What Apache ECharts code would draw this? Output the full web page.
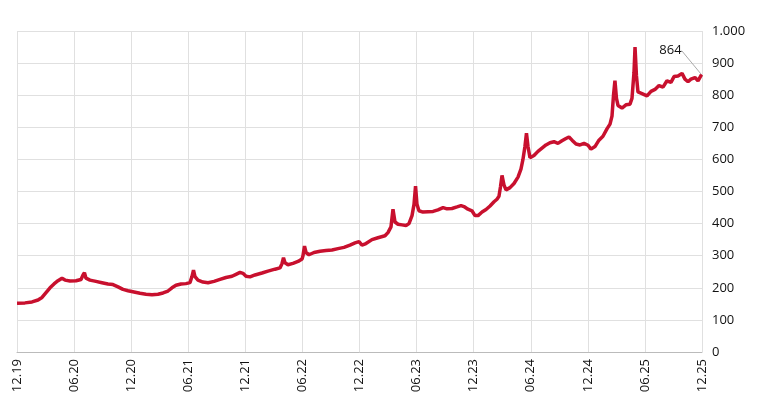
<!DOCTYPE html>
<html><head><meta charset="utf-8">
<script src="https://cdn.jsdelivr.net/npm/echarts@6/dist/echarts.min.js"></script>
<style>html,body{margin:0;padding:0;background:#fff}#c{width:765px;height:419px}</style>
</head><body><div id="c"></div>
<script>
// months since Dec 2019
const months = [0,0.84,1.58,2.21,2.63,3.05,3.47,3.89,4.31,4.73,5.05,5.57,6.20,6.73,6.94,7.09,7.25,7.67,8.30,8.93,9.56,10.09,10.62,11.14,11.67,12.30,12.93,13.56,14.19,14.82,15.35,15.87,16.29,16.71,17.24,17.76,18.18,18.39,18.55,18.71,19.02,19.55,20.08,20.71,21.34,21.97,22.60,23.02,23.44,23.75,24.07,24.49,25.02,25.75,26.38,27.12,27.64,27.85,28.01,28.17,28.48,29.01,29.54,29.96,30.06,30.22,30.38,30.69,31.22,31.85,32.48,33.11,33.74,34.37,35.00,35.53,35.95,36.26,36.68,37.31,37.94,38.68,38.99,39.31,39.52,39.73,40.05,40.47,40.89,41.20,41.52,41.73,41.89,42.04,42.25,42.67,43.20,43.73,44.25,44.78,45.20,45.72,46.25,46.67,46.98,47.40,47.82,48.14,48.46,48.88,49.30,49.72,50.14,50.45,50.66,50.82,50.98,51.19,51.40,51.82,52.24,52.66,52.97,53.18,53.39,53.55,53.71,53.92,54.34,54.76,55.18,55.60,56.02,56.44,56.86,57.28,57.70,58.02,58.34,58.76,59.18,59.60,60.02,60.33,60.75,61.17,61.59,62.01,62.33,62.54,62.70,62.85,63.01,63.17,63.59,64.01,64.43,64.64,64.85,64.96,65.11,65.27,65.69,66.22,66.64,67.06,67.48,67.90,68.32,68.74,69.06,69.48,69.90,70.21,70.53,70.84,71.26,71.58,71.95];
const values = [152,153,156,162,170,185,200,212,222,230,224,221,222,226,240,247,230,224,220,216,212,210,203,195,191,187,183,180,178,180,184,190,200,208,212,213,216,235,255,235,224,218,216,220,226,232,236,242,248,245,236,234,240,246,252,258,262,275,294,278,272,276,282,290,300,330,310,303,310,314,316,318,322,326,333,340,344,333,338,350,356,362,372,390,445,405,398,396,394,400,425,460,517,460,440,436,437,438,443,450,446,447,452,456,453,445,440,425,425,436,444,455,468,476,485,515,550,520,505,512,525,545,570,600,640,682,640,605,612,625,635,645,652,655,650,658,665,670,660,648,645,650,644,632,640,660,672,695,710,735,800,845,790,768,760,770,772,790,870,950,860,810,805,798,812,818,830,825,845,840,858,860,868,850,842,850,855,845,864];
const tickLabels = ['12.19','06.20','12.20','06.21','12.21','06.22','12.22','06.23','12.23','06.24','12.24','06.25','12.25'];
const yTicks = {0:'0',100:'100',200:'200',300:'300',400:'400',500:'500',600:'600',700:'700',800:'800',900:'900',1000:'1.000'};

const lastIdx = months.length - 1;
const data = months.map((m,i)=>{
  if (i === lastIdx) {
    return {value:[m, values[i]], symbolSize:1,
      label:{show:true, formatter: String(values[i])},
      labelLine:{show:true, lineStyle:{color:'#aaa', width:1}}};
  }
  return [m, values[i]];
});

const chart = echarts.init(document.getElementById('c'));
chart.setOption({
  animation:false,
  textStyle:{fontFamily:'Open Sans'},
  grid:{left:17,right:63,top:31,bottom:67,containLabel:false},
  xAxis:{type:'value',min:0,max:72,interval:6,
    axisLine:{show:true,lineStyle:{color:'#bbb',width:1}},
    axisTick:{show:false},
    splitLine:{show:true,lineStyle:{color:'#e0e0e0',width:1}},
    axisLabel:{rotate:90,margin:7,fontSize:13,color:'#111',fontFamily:'Open Sans',
      formatter:v=>tickLabels[Math.round(v/6)]}
  },
  yAxis:{type:'value',position:'right',min:0,max:1000,interval:100,
    axisLine:{show:false},axisTick:{show:false},
    splitLine:{show:true,lineStyle:{color:'#e0e0e0',width:1}},
    axisLabel:{margin:10,fontSize:13,color:'#111',fontFamily:'Open Sans',formatter:v=>yTicks[v]}
  },
  series:[{type:'line',data:data,showSymbol:true,symbol:'circle',symbolSize:0,
    lineStyle:{color:'#c8102e',width:3.5},
    itemStyle:{color:'#c8102e'},
    label:{show:false,fontSize:13,color:'#111',fontFamily:'Open Sans'},
    labelLayout:{dx:-31,dy:-12},
    labelLine:{show:false},
    emphasis:{disabled:true},
    z:3
  }]
});
</script></body></html>
